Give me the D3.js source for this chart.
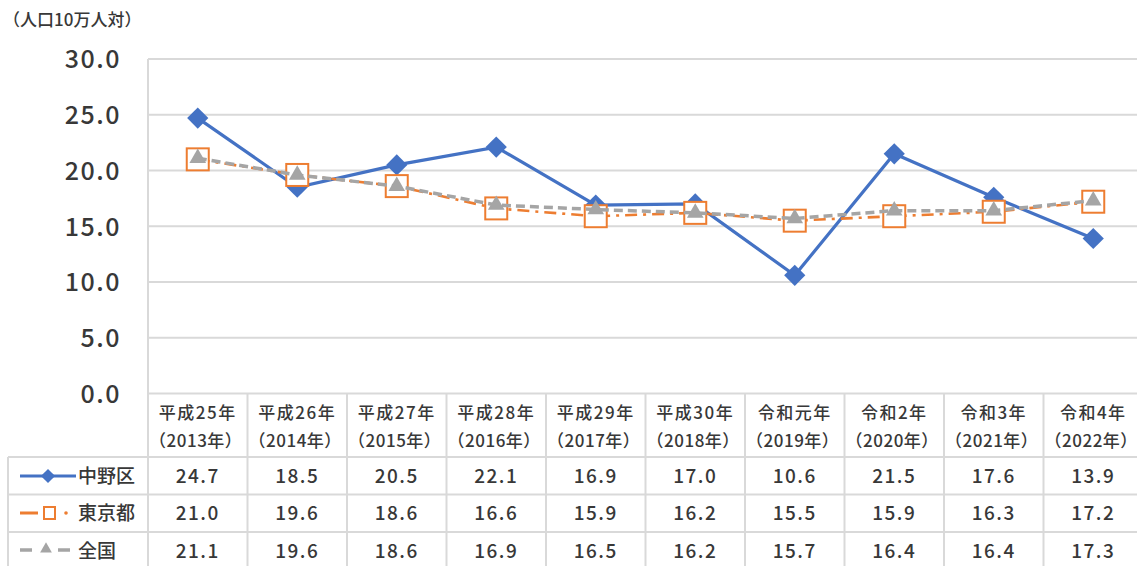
<!DOCTYPE html>
<html><head><meta charset="utf-8">
<script src="https://cdn.jsdelivr.net/npm/d3@7"></script>
<style>
html,body{margin:0;padding:0;background:#fff;}
svg{display:block;}
text{font-family:"Noto Sans CJK JP","Noto Sans",sans-serif;fill:#383838;font-weight:500;}
</style></head>
<body><svg id="c" width="1137" height="566"></svg>
<script>
const yearsTop = ["平成25年","平成26年","平成27年","平成28年","平成29年","平成30年","令和元年","令和2年","令和3年","令和4年"];
const yearsBottom = ["（2013年）","（2014年）","（2015年）","（2016年）","（2017年）","（2018年）","（2019年）","（2020年）","（2021年）","（2022年）"];
const nakano = [24.7,18.5,20.5,22.1,16.9,17.0,10.6,21.5,17.6,13.9];
const tokyo = [21.0,19.6,18.6,16.6,15.9,16.2,15.5,15.9,16.3,17.2];
const zenkoku = [21.1,19.6,18.6,16.9,16.5,16.2,15.7,16.4,16.4,17.3];
const seriesNames = ["中野区","東京都","全国"];
const yTicks = [0,5,10,15,20,25,30];
const unitLabel = "（人口10万人対）";

const svg = d3.select("#c");
const gridColor = "#d9d9d9";
const x = d3.scaleBand().domain(d3.range(yearsTop.length)).range([148,1143]).padding(0);
const y = d3.scaleLinear().domain([0,30]).range([393.5,59]);
const cx = i => x(i) + x.bandwidth()/2;

// unit label
svg.append("text").attr("x",3).attr("y",26).attr("font-size",17).text(unitLabel);

// gridlines
svg.append("g").selectAll("line").data(yTicks).join("line")
  .attr("x1",148).attr("x2",1137).attr("y1",d=>y(d)).attr("y2",d=>y(d))
  .attr("stroke",gridColor).attr("stroke-width",2);

// y axis labels via axis
const yAxis = d3.axisLeft(y).tickValues(yTicks).tickFormat(d3.format(".1f")).tickSize(0).tickPadding(0);
const ya = svg.append("g").attr("transform","translate(121,0)").call(yAxis);
ya.select(".domain").remove();
ya.selectAll("text").attr("font-size",25).attr("fill","#2a2a2a").attr("dy","0.35em")
  .style("font-family","'Noto Sans CJK JP'").style("font-weight","500").attr("letter-spacing","1.5");

// table lines
const tbl = svg.append("g").attr("stroke",gridColor).attr("stroke-width",2);
const rowLines = [457,494.5,532];
rowLines.forEach(yy=>tbl.append("line").attr("x1",8).attr("x2",1137).attr("y1",yy).attr("y2",yy));
tbl.append("line").attr("x1",8).attr("x2",8).attr("y1",457).attr("y2",566);
tbl.append("line").attr("x1",148).attr("x2",148).attr("y1",59).attr("y2",566);
d3.range(1,yearsTop.length).forEach(i=>tbl.append("line").attr("x1",x(i)).attr("x2",x(i)).attr("y1",394).attr("y2",566));

// header texts
const hdr = svg.append("g").attr("text-anchor","middle").attr("font-size",17);
hdr.selectAll("text.t").data(yearsTop).join("text").attr("class","t")
  .attr("x",(d,i)=>cx(i)).attr("y",419).attr("letter-spacing","1.5").text(d=>d);
hdr.selectAll("text.b").data(yearsBottom).join("text").attr("class","b")
  .attr("x",(d,i)=>cx(i)-2).attr("y",447).attr("letter-spacing","0.5").text(d=>d);

// value cells
const rowsData = [nakano,tokyo,zenkoku];
const rowCenters = [476,513.5,551];
rowsData.forEach((arr,r)=>{
  svg.append("g").attr("text-anchor","middle").attr("font-size",19)
    .selectAll("text").data(arr).join("text")
    .attr("x",(d,i)=>cx(i)).attr("y",rowCenters[r]).attr("dy","0.36em").attr("letter-spacing","1.5")
    .text(d=>d3.format(".1f")(d));
});

// series styles
const blue="#4472C4", orange="#ED7D31", gray="#A5A5A5";
const line = arr => d3.line().x((d,i)=>cx(i)).y(d=>y(d))(arr);

// 中野区
svg.append("path").attr("d",line(nakano)).attr("fill","none").attr("stroke",blue).attr("stroke-width",3.2);
svg.append("g").selectAll("rect").data(nakano).join("rect")
  .attr("x",-7.5).attr("y",-7.5).attr("width",15).attr("height",15)
  .attr("transform",(d,i)=>`translate(${cx(i)},${y(d)}) rotate(45)`).attr("fill",blue);

// 東京都
svg.append("path").attr("d",line(tokyo)).attr("fill","none").attr("stroke",orange).attr("stroke-width",2.6)
  .attr("stroke-dasharray","12,6,3,6");
svg.append("g").selectAll("rect").data(tokyo).join("rect")
  .attr("x",(d,i)=>cx(i)-11).attr("y",d=>y(d)-11).attr("width",22).attr("height",22)
  .attr("fill","#fff").attr("stroke",orange).attr("stroke-width",2);

// 全国
svg.append("path").attr("d",line(zenkoku)).attr("fill","none").attr("stroke",gray).attr("stroke-width",3.5)
  .attr("stroke-dasharray","9,5");
const tri = d3.symbol().type(d3.symbolTriangle).size(120);
svg.append("g").selectAll("path").data(zenkoku).join("path")
  .attr("d",tri).attr("transform",(d,i)=>`translate(${cx(i)},${y(d)})`).attr("fill",gray);

// legend in table
const lg = svg.append("g");
lg.append("line").attr("x1",20).attr("x2",76).attr("y1",476).attr("y2",476).attr("stroke",blue).attr("stroke-width",3);
lg.append("rect").attr("x",-5).attr("y",-5).attr("width",10).attr("height",10).attr("fill",blue)
  .attr("transform","translate(48,476) rotate(45)");
lg.append("line").attr("x1",20).attr("x2",38).attr("y1",513).attr("y2",513).attr("stroke",orange).attr("stroke-width",3);
lg.append("rect").attr("x",44).attr("y",507).attr("width",11).attr("height",12).attr("fill","#fff").attr("stroke",orange).attr("stroke-width",2);
lg.append("circle").attr("cx",66).attr("cy",513).attr("r",1.8).attr("fill",orange);
lg.append("line").attr("x1",20).attr("x2",32).attr("y1",550).attr("y2",550).attr("stroke",gray).attr("stroke-width",3.5);
lg.append("line").attr("x1",58).attr("x2",70).attr("y1",550).attr("y2",550).attr("stroke",gray).attr("stroke-width",3.5);
lg.append("path").attr("d",d3.symbol().type(d3.symbolTriangle).size(60)).attr("transform","translate(46,549)").attr("fill",gray);
const legY = [476,513.5,551];
lg.selectAll("text").data(seriesNames).join("text")
  .attr("x",78).attr("y",(d,i)=>legY[i]).attr("dy","0.36em").attr("font-size",19).text(d=>d);
</script></body></html>
